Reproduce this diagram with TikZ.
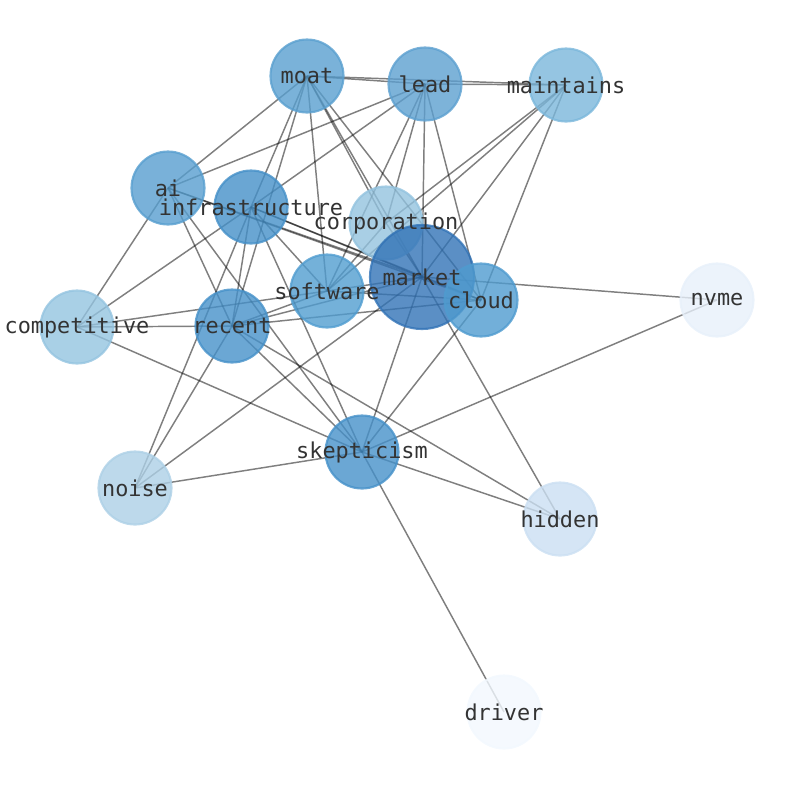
\documentclass[tikz,border=0pt]{standalone}
\usepackage{fontspec}
\usepackage{xcolor}
\usepackage{tikz}
\usetikzlibrary{backgrounds}
\newfontfamily\wordfont{DejaVu Sans Mono}

\definecolor{cDriver}{RGB}{242,248,254}
\definecolor{cNvme}{RGB}{231,240,250}
\definecolor{cHidden}{RGB}{203,223,242}
\definecolor{cNoise}{RGB}{173,208,230}
\definecolor{cCompetitive}{RGB}{148,196,224}
\definecolor{cCorporation}{RGB}{147,195,223}
\definecolor{cMaintains}{RGB}{123,183,219}
\definecolor{cLead}{RGB}{93,160,208}
\definecolor{cMoat}{RGB}{89,159,207}
\definecolor{cAi}{RGB}{87,158,207}
\definecolor{cCloud}{RGB}{79,155,207}
\definecolor{cSoftware}{RGB}{81,157,208}
\definecolor{cInfra}{RGB}{69,144,200}
\definecolor{cRecent}{RGB}{70,145,201}
\definecolor{cSkepticism}{RGB}{70,145,201}
\definecolor{cMarket}{RGB}{50,115,182}
\definecolor{labelgray}{RGB}{51,51,51}

\tikzset{
    word/.style={circle, minimum size=54.75pt, inner sep=0pt, line width=1.6pt,
        fill=#1, draw=#1, fill opacity=0.8, draw opacity=0.8},
    bigword/.style={word=#1, minimum size=78pt},
    link/.style={line width=1.1pt, draw=black, draw opacity=0.5},
    wordlabel/.style={font=\wordfont\fontsize{16.4}{18}\selectfont, text=labelgray, inner sep=0pt}
}

\begin{document}
\begin{tikzpicture}[x=0.75pt, y=-0.75pt]
    \useasboundingbox (0,0) rectangle (794,790);
    \node[word=cMoat] at (307,76) (moat) {};
    \node[word=cLead] at (425,84) (lead) {};
    \node[word=cMaintains] at (566,85) (maintains) {};
    \node[word=cAi] at (168,188) (ai) {};
    \node[word=cInfra] at (251,207) (infrastructure) {};
    \node[word=cCorporation] at (386,223) (corporation) {};
    \node[bigword=cMarket] at (422,277) (market) {};
    \node[word=cSoftware] at (327,291) (software) {};
    \node[word=cCloud] at (481,300) (cloud) {};
    \node[word=cNvme] at (717,300) (nvme) {};
    \node[word=cCompetitive] at (77,327) (competitive) {};
    \node[word=cRecent] at (232,326) (recent) {};
    \node[word=cSkepticism] at (362,452) (skepticism) {};
    \node[word=cNoise] at (135,488) (noise) {};
    \node[word=cHidden] at (560,519) (hidden) {};
    \node[word=cDriver] at (504,712) (driver) {};
    \begin{scope}[on background layer]
        \foreach \a/\b in {moat/lead, moat/maintains, lead/maintains, moat/ai,
            moat/infrastructure, moat/recent, moat/software, moat/corporation,
            moat/market, moat/cloud, lead/ai, lead/infrastructure, lead/software,
            lead/corporation, lead/market, lead/cloud, maintains/software,
            maintains/corporation, maintains/market, maintains/cloud,
            ai/competitive, ai/recent, ai/skepticism, ai/market, ai/cloud,
            infrastructure/competitive, infrastructure/noise, infrastructure/recent,
            infrastructure/skepticism, infrastructure/market, infrastructure/cloud,
            infrastructure/software, competitive/recent, competitive/software,
            competitive/skepticism, recent/software, recent/market, recent/cloud,
            recent/noise, recent/skepticism, recent/hidden, software/market,
            software/cloud, software/corporation, market/cloud, market/nvme,
            market/skepticism, market/noise, market/hidden, market/corporation,
            cloud/skepticism, skepticism/nvme, skepticism/noise,
            skepticism/hidden, skepticism/driver}
            \draw[link] (\a.center) -- (\b.center);
    \end{scope}
    \foreach \w in {moat, lead, maintains, ai, infrastructure, corporation,
        market, software, cloud, nvme, competitive, recent, skepticism, noise,
        hidden, driver}
        \node[wordlabel] at (\w) {\w};
\end{tikzpicture}
\end{document}
